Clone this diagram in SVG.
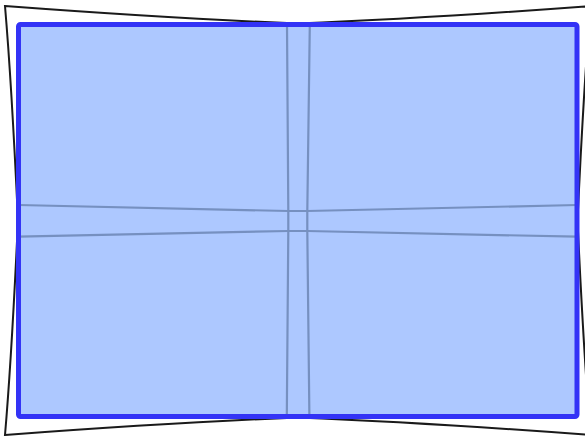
<svg xmlns="http://www.w3.org/2000/svg" width="585" height="438" viewBox="0 0 585 438">
  <style>
    .outline { fill: none; stroke: #1a1a1a; stroke-width: 2; stroke-linejoin: miter; }
    .area { fill: #adc8ff; stroke: none; }
    .border { fill: none; stroke: #3333f6; stroke-width: 5; }
    .grid { fill: none; stroke: #7690c0; stroke-width: 2.2; stroke-linejoin: miter; }
  </style>
  <rect x="0" y="0" width="585" height="438" fill="#ffffff"/>
  <g id="warped-outline">
    <path class="outline" d="M5,6 C105,13.5 197.7,19.5 297.75,23.5 C397.8,19.5 490.5,13.5 590.5,6 C584.5,76 581,145.5 577.5,220.5 C581,295.5 584.5,365 590.5,435 C490.5,427.5 397.8,421.5 297.75,417.5 C197.7,421.5 105,427.5 5,435 C11,365 14.5,295.5 18,220.5 C14.5,145.5 11,76 5,6 Z"/>
  </g>
  <g id="frame-fill">
    <rect class="area" x="18.5" y="24.5" width="558.5" height="392" rx="2"/>
  </g>
  <g id="grid-lines">
    <polyline class="grid" points="287,24.5 288.3,211 288.3,231 286.8,416.5"/>
    <polyline class="grid" points="309.8,24.5 307.3,211 307.3,231 309.4,416.5"/>
    <polyline class="grid" points="18.5,205 288.3,211 307.3,211 577,205"/>
    <polyline class="grid" points="18.5,236.7 288.3,231 307.3,231 577,236.7"/>
  </g>
  <g id="frame-border">
    <rect class="border" x="18.5" y="24.5" width="558.5" height="392" rx="2"/>
  </g>
</svg>
